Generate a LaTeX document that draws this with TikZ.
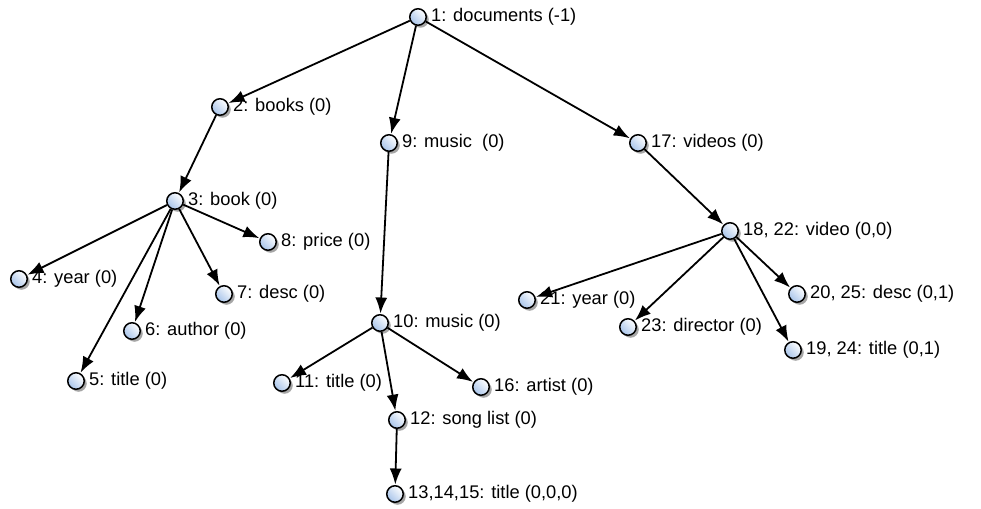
\documentclass[tikz,border=0pt]{standalone}
\usepackage{fontspec}
\setmainfont{Liberation Sans}
\usetikzlibrary{arrows.meta,shadows}
\definecolor{ballblue}{RGB}{168,196,234}
\begin{document}
\begin{tikzpicture}[x=1pt,y=-1pt,
  every label/.style={font=\fontsize{18.3}{20}\selectfont, inner sep=0pt},
  vtx/.style={circle, draw=black, line width=1.5pt, minimum size=16.5pt, inner sep=0pt,
    shading=axis, top color=white, bottom color=ballblue, shading angle=-45,
    drop shadow={shadow xshift=2.5pt, shadow yshift=-2.5pt, opacity=0.35, fill=black},
    label={[label distance=4pt]right:#1}},
  edge/.style={-{Latex[length=16pt,width=12pt]}, line width=1.8pt, shorten >=0.5pt}]
\useasboundingbox (0,0) rectangle (981,508);
% nodes of the tree
\node[vtx={1: documents (-1)}] (n1) at (418,17) {};
\node[vtx={2: books (0)}] (n2) at (220,107) {};
\node[vtx={9: music\ \ (0)}] (n9) at (389,143) {};
\node[vtx={17: videos (0)}] (n17) at (638,143) {};
\node[vtx={3: book (0)}] (n3) at (175,201) {};
\node[vtx={8: price (0)}] (n8) at (268,242) {};
\node[vtx={4: year (0)}] (n4) at (19,279) {};
\node[vtx={7: desc (0)}] (n7) at (224,294) {};
\node[vtx={6: author (0)}] (n6) at (132,331) {};
\node[vtx={5: title (0)}] (n5) at (76,381) {};
\node[vtx={10: music (0)}] (n10) at (380,323) {};
\node[vtx={11: title (0)}] (n11) at (282,383) {};
\node[vtx={16: artist (0)}] (n16) at (481,387) {};
\node[vtx={12: song list (0)}] (n12) at (397,420) {};
\node[vtx={13,14,15: title (0,0,0)}] (n13) at (395,494) {};
\node[vtx={18, 22: video (0,0)}] (n18) at (730,231) {};
\node[vtx={21: year (0)}] (n21) at (527,300) {};
\node[vtx={23: director (0)}] (n23) at (628,327) {};
\node[vtx={20, 25: desc (0,1)}] (n20) at (797,294) {};
\node[vtx={19, 24: title (0,1)}] (n19) at (793,350) {};
% connectors
\draw[edge] (n1) -- (n2);
\draw[edge] (n1) -- (n9);
\draw[edge] (n1) -- (n17);
\draw[edge] (n2) -- (n3);
\draw[edge] (n3) -- (n8);
\draw[edge] (n3) -- (n4);
\draw[edge] (n3) -- (n7);
\draw[edge] (n3) -- (n6);
\draw[edge] (n3) -- (n5);
\draw[edge] (n9) -- (n10);
\draw[edge] (n10) -- (n11);
\draw[edge] (n10) -- (n12);
\draw[edge] (n10) -- (n16);
\draw[edge] (n12) -- (n13);
\draw[edge] (n17) -- (n18);
\draw[edge] (n18) -- (n21);
\draw[edge] (n18) -- (n23);
\draw[edge] (n18) -- (n19);
\draw[edge] (n18) -- (n20);
\end{tikzpicture}
\end{document}
